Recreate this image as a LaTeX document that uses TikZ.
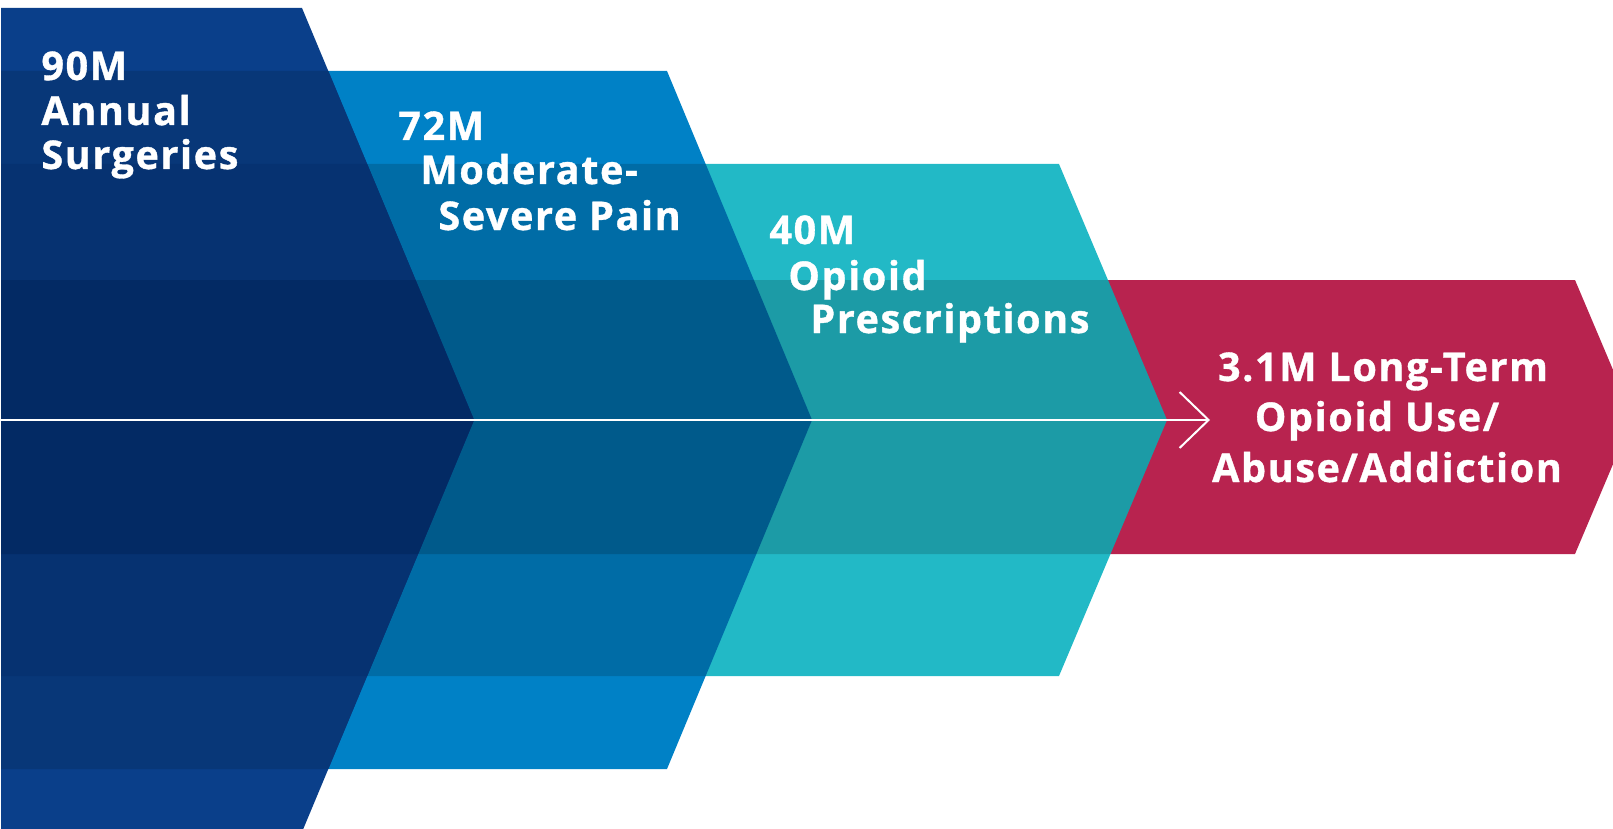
\documentclass[tikz,border=0pt]{standalone}
\usepackage{fontspec}
\setmainfont{Open Sans}[LetterSpace=4,BoldFeatures={FakeBold=0.9}]
\usetikzlibrary{arrows.meta}
\definecolor{cNavy}{HTML}{0A3F8A}
\definecolor{cNavyB}{HTML}{083778}
\definecolor{cNavyC}{HTML}{063271}
\definecolor{cNavyD}{HTML}{032A64}
\definecolor{cBlue}{HTML}{0081C6}
\definecolor{cTeal}{HTML}{22B9C6}
\definecolor{cRed}{HTML}{B8234F}
\begin{document}
\begin{tikzpicture}[x=0.5pt,y=-0.5pt,
  shade/.style={fill=black,fill opacity=0.16},
  lbl/.style={inner sep=0pt,text=white,font=\fontsize{19.8}{22.5}\selectfont\bfseries},
  lblw/.style={lbl,anchor=base west},
  lblc/.style={lbl,anchor=base}]
\useasboundingbox (0,0) rectangle (1613,829);
\clip (0,0) rectangle (1613,829);
\def\cOne{(1,8) -- (302,8) -- (474,420) -- (302,832) -- (1,832) -- cycle}
\def\cTwo{(1,71) -- (667,71) -- (812,420) -- (667,769) -- (1,769) -- cycle}
\def\cThree{(1,164) -- (1059,164) -- (1167,420) -- (1059,676) -- (1,676) -- cycle}
\def\cFour{(1,280) -- (1575,280) -- (1633,417) -- (1575,554) -- (1,554) -- cycle}
% chevron 4 (red)
\fill[cRed] \cFour;
% chevron 3 (teal)
\fill[cTeal] \cThree;
\begin{scope}
  \clip \cThree;
  \fill[shade] \cFour;
\end{scope}
% chevron 2 (blue)
\fill[cBlue] \cTwo;
\begin{scope}
  \clip \cTwo;
  \fill[shade] \cThree;
  \fill[shade] \cFour;
\end{scope}
% chevron 1 (navy)
\fill[cNavy] \cOne;
\begin{scope}
  \clip \cOne;
  \fill[cNavyB] \cTwo;
  \fill[cNavyC] \cThree;
  \fill[cNavyD] \cFour;
\end{scope}
% axis arrow
\coordinate (lineStart) at (1,420);
\coordinate (lineEnd) at (1210,420);
\draw[white,line width=1pt,-{Straight Barb[length=14.5pt,width=28pt]}] (lineStart) -- (lineEnd);
% labels
\node[lblw] (a1) at (41,80) {90M};
\node[lblw] (a2) at (41,125) {Annual};
\node[lblw] (a3) at (41,169) {Surgeries};
\node[lblw] (b1) at (398,140) {72M};
\node[lblw] (b2) at (420,184) {Moderate-};
\node[lblw] (b3) at (438,230) {Severe Pain};
\node[lblw] (c1) at (769,244) {40M};
\node[lblw] (c2) at (788,290) {Opioid};
\node[lblw] (c3) at (810,333) {Prescriptions};
\node[lblc] (d1) at (1383,381) {3.1M Long-Term};
\node[lblc] (d2) at (1377,431) {Opioid Use/};
\node[lblc] (d3) at (1387,482) {Abuse/Addiction};
\end{tikzpicture}
\end{document}
